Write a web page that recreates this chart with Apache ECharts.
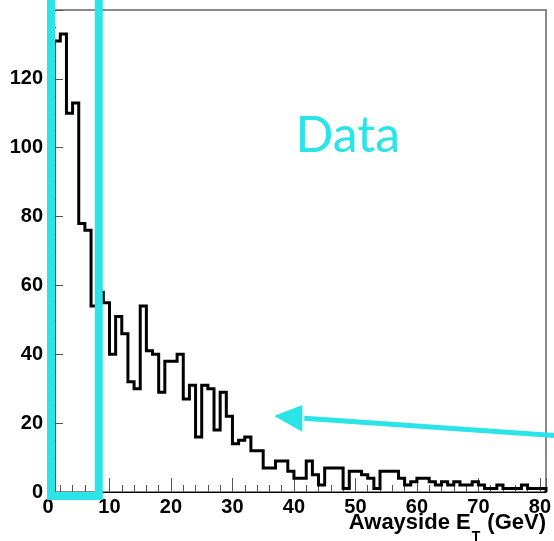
<!DOCTYPE html>
<html><head><meta charset="utf-8">
<script src="https://cdn.jsdelivr.net/npm/echarts@6/dist/echarts.min.js"></script>
<style>html,body{margin:0;padding:0;background:#fff}#c{width:554px;height:541px}</style>
</head><body><div id="c"></div>
<script>
// ---- data ----
const binLowEdges = [1,2,3,4,5,6,7,8,9,10,11,12,13,14,15,16,17,18,19,20,21,22,23,24,25,26,27,28,29,30,31,32,33,34,35,36,37,38,39,40,41,42,43,44,45,46,47,48,49,50,51,52,53,54,55,56,57,58,59,60,61,62,63,64,65,66,67,68,69,70,71,72,73,74,75,76,77,78,79,80];
const binWidth = 1;
const counts = [131,133,110,113,78,76,54,58,55,40,
                51,46,32,30,54,41,40,29,38,38,
                40,27,31,16,31,30,18,29,22,14,
                15,16,12,12,7,7,9,9,6,4,
                4,9,5,2,7,7,7,1,6,6,
                5,4,1,6,6,6,4,2,3,4,
                4,3,2,3,2,3,2,2,3,2,
                1,1,2,1,1,1,2,1,1,1];
const xTickLabels = ['0','10','20','30','40','50','60','70','80'];
const yTickLabels = ['0','20','40','60','80','100','120'];
const xTitleMain = 'Awayside E';
const xTitleSub = 'T';
const xTitleUnit = ' (GeV)';
const annotationText = 'Data';
// annotation anchors in data units
const boxXRange = [0.49, 8.26];
const boxYRange = [-1.16, 149];
const arrowTail = [82.3, 16.4];
const arrowTip = [36.77, 22.07];
const arrowHeadBaseX = 41.36;
const arrowHeadHalf = [25.27, 17.51];
const textAnchor = [48.76, 103.4];

const CYAN = '#2AE4E8';
const FONT = '"Liberation Sans", Arial, Helvetica, sans-serif';

// histogram outline built from bins
const outline = [[binLowEdges[0], 0]];
binLowEdges.forEach((lo, i) => { outline.push([lo, counts[i]], [lo + binWidth, counts[i]]); });
outline.push([binLowEdges[binLowEdges.length - 1] + binWidth, 0]);

const chart = echarts.init(document.getElementById('c'), null, {renderer: 'canvas'});
const labelStyle = {color: '#000', fontSize: 20, fontWeight: 'bold', fontFamily: FONT};
chart.setOption({
  animation: false,
  backgroundColor: '#fff',
  textStyle: {fontFamily: FONT},
  grid: {left: 48, right: 6, top: 10, bottom: 49, show: true, borderColor: '#8a8a8a', borderWidth: 2, backgroundColor: 'transparent'},
  xAxis: [{
    type: 'value', min: 0, max: 81, interval: 10,
    axisLine: {show: true, onZero: false, lineStyle: {color: '#000', width: 1}},
    axisTick: {show: true, inside: true, length: 14, lineStyle: {color: '#555', width: 1}},
    axisLabel: Object.assign({margin: 5, showMaxLabel: true,
      formatter: v => xTickLabels.includes(String(v)) ? String(v) : ''}, labelStyle),
    splitLine: {show: false}
  }, {
    type: 'value', min: 0, max: 81, interval: 2, position: 'bottom',
    axisLine: {show: false},
    axisTick: {show: true, inside: true, length: 7, lineStyle: {color: '#555', width: 1}},
    axisLabel: {show: false},
    splitLine: {show: false}
  }],
  yAxis: {
    type: 'value', min: 0, max: 140, interval: 20,
    axisLine: {show: true, lineStyle: {color: '#000', width: 1}},
    axisTick: {show: true, inside: true, length: 15, lineStyle: {color: '#555', width: 1}},
    minorTick: {show: true, splitNumber: 4, length: 8, lineStyle: {color: '#555', width: 1}},
    axisLabel: Object.assign({margin: 5,
      formatter: v => yTickLabels.includes(String(v)) ? String(v) : ''}, labelStyle),
    splitLine: {show: false}
  },
  series: [{
    type: 'line', xAxisIndex: 0, yAxisIndex: 0, data: outline, symbol: 'none',
    lineStyle: {color: '#000', width: 3, join: 'miter'}, z: 5
  }]
});

function px(p) { return chart.convertToPixel({seriesIndex: 0}, p); }
const b0 = px([boxXRange[0], boxYRange[0]]);
const b1 = px([boxXRange[1], boxYRange[1]]);
const tip = px(arrowTip);
const tail = px(arrowTail);
const hb1 = px([arrowHeadBaseX, arrowHeadHalf[0]]);
const hb2 = px([arrowHeadBaseX, arrowHeadHalf[1]]);
const hbMid = [(hb1[0] + hb2[0]) / 2, (hb1[1] + hb2[1]) / 2];
const ta = px(textAnchor);

chart.setOption({
  graphic: [
    {type: 'rect', z: 100, shape: {x: b0[0], y: b1[1], width: b1[0] - b0[0], height: b0[1] - b1[1]},
     style: {fill: 'none', stroke: CYAN, lineWidth: 8}},
    {type: 'line', z: 100, shape: {x1: tail[0], y1: tail[1], x2: hbMid[0] + 2, y2: hbMid[1]},
     style: {stroke: CYAN, lineWidth: 5}},
    {type: 'polygon', z: 100, shape: {points: [tip, hb1, hb2]}, style: {fill: CYAN}},
    {type: 'text', z: 100, x: ta[0], y: ta[1],
     style: {text: annotationText, fill: CYAN, font: 'normal 50px Lato, "DejaVu Sans", sans-serif', align: 'center', verticalAlign: 'middle'}},
    {type: 'text', z: 100, right: 8, top: 512,
     style: {
       text: '{a|' + xTitleMain + '}{s|' + xTitleSub + '}{a|' + xTitleUnit + '}',
       fill: '#000',
       rich: {
         a: {fontSize: 22, fontWeight: 'bold', fontFamily: FONT, lineHeight: 24, verticalAlign: 'top', fill: '#000'},
         s: {fontSize: 14, fontWeight: 'bold', fontFamily: FONT, lineHeight: 14, padding: [18, 1, 0, 1], verticalAlign: 'top', fill: '#000'}
       }
     }}
  ]
});
</script></body></html>
